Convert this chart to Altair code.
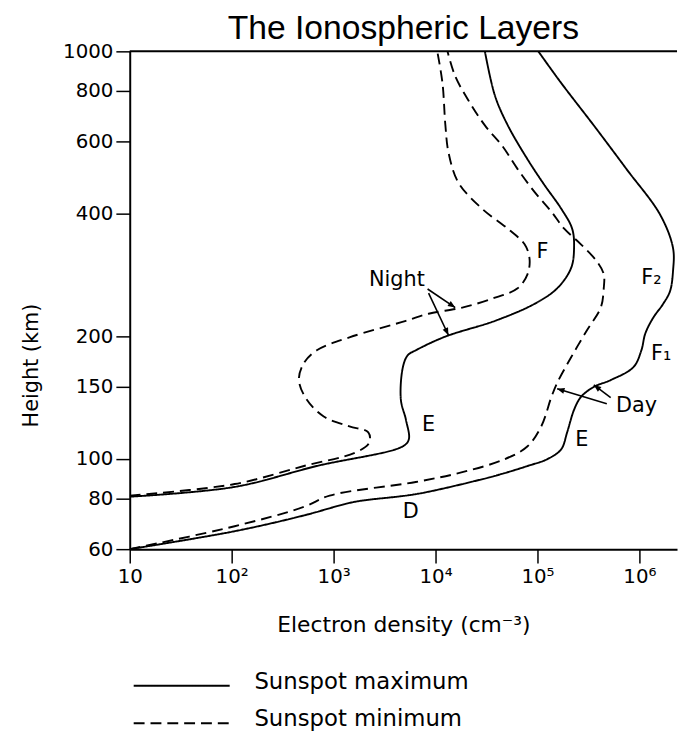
import math
import altair as alt
import pandas as pd

# ---------------- data ----------------
# Night, sunspot maximum (solid)
night_max_density = [10, 107, 684, 4786, 5470, 5120, 4570, 4786, 5350, 6400, 12500, 38300, 93500,
                     156000, 214000, 228600, 219000, 171000, 117000, 80000, 51200, 38300, 30500]
night_max_height = [80.7, 85.3, 96.0, 107.3, 111.6, 124.8, 139.6, 167.9, 179.6, 184.6, 199.5, 218, 240,
                    262, 294, 329, 367, 411, 470, 543, 658, 778, 1000]

# Night, sunspot minimum (dashed)
night_min_density = [10, 107, 512, 1671, 2240, 2190, 1430, 800, 547, 457, 512, 684, 1430, 5120, 8550,
                     18300, 38300, 63900, 80000, 83600, 74800, 51200, 28600, 16700, 13400, 12500, 11700, 10400]
night_min_height = [81.2, 86.7, 96, 103.8, 109.6, 116.1, 120.1, 127, 139.6, 156, 171.8, 184.6, 198.6, 218, 227,
                    235, 248.5, 262, 284, 310, 336, 367, 411, 477, 565, 658, 836, 1000]

# Day, sunspot maximum (solid)
day_max_density = [10, 107, 512, 1337, 1871, 5120, 8550, 38300, 80000, 125000, 171000, 195500, 228600,
                   267000, 357000, 523000, 875000, 1046000, 1143000, 1368000, 1711000, 2000000, 2138000,
                   2138000, 1600000, 748000, 357000, 171000, 102000]
day_max_height = [60, 66.4, 72.6, 77.6, 78.9, 81.2, 83.0, 90.8, 96.0, 99.8, 105.5, 116.1, 131.9,
                  141.8, 150.1, 156, 167.9, 184.6, 203, 222, 240, 258, 289,
                  329, 397, 514, 658, 836, 1000]

# Day, sunspot minimum (dashed)
day_min_density = [10, 107, 512, 914, 6400, 18300, 47900, 80000, 109000, 137000, 156000, 214000, 305000,
                   418000, 447000, 447000, 383000, 267000, 183000, 137000, 93500, 63900, 44700, 30500,
                   20900, 15600, 13100]
day_min_height = [60, 68.3, 76.2, 81.2, 87.7, 92.7, 99.8, 107.3, 120.1, 141.8, 153.5, 177.5, 206.5,
                  235, 262, 284, 305, 336, 367, 404, 452, 514, 588, 658,
                  760, 869, 1000]

# Text labels on the chart
ann_text = ["Night", "F", "F\u2082", "F\u2081", "Day", "E", "E", "D"]
ann_density = [4180, 112000, 1310000, 1637000, 935000, 8550, 273000, 5710]
ann_height = [274.8, 321, 278, 180.6, 134.9, 120.8, 110.9, 74.1]

# Arrows (from label to curve)
arrow_density = [8360, 8550, 479000, 523000]
arrow_height = [261, 255, 136.4, 141.3]
arrow_density2 = [15600, 13400, 156000, 357000]
arrow_height2 = [235, 201, 148.5, 151.8]

# Axes
x_tick_values = [10, 100, 1000, 10000, 100000, 1000000]
x_tick_labels = ["10", "10\u00b2", "10\u00b3", "10\u2074", "10\u2075", "10\u2076"]
y_tick_values = [60, 80, 100, 150, 200, 400, 600, 800, 1000]

legend_labels = ["Sunspot maximum", "Sunspot minimum"]

# ---------------- build tables ----------------
rows = []
for name, cyc, dens, hts in [
    ("night_max", legend_labels[0], night_max_density, night_max_height),
    ("night_min", legend_labels[1], night_min_density, night_min_height),
    ("day_max", legend_labels[0], day_max_density, day_max_height),
    ("day_min", legend_labels[1], day_min_density, day_min_height),
]:
    for i, (d, h) in enumerate(zip(dens, hts)):
        rows.append({"curve": name, "cycle": cyc, "idx": i, "density": d, "height": h})
df = pd.DataFrame(rows)

W, H = 553, 503
X_DOMAIN = [10, 2.34e6]
Y_DOMAIN = [60, 1000]
px_x = W / (math.log10(X_DOMAIN[1]) - math.log10(X_DOMAIN[0]))
px_y = H / (math.log10(Y_DOMAIN[1]) - math.log10(Y_DOMAIN[0]))

angles = []
for d1, h1, d2, h2 in zip(arrow_density, arrow_height, arrow_density2, arrow_height2):
    dx = px_x * (math.log10(d2) - math.log10(d1))
    dy = -px_y * (math.log10(h2) - math.log10(h1))
    angles.append(math.degrees(math.atan2(dx, -dy)) % 360)

arrows = pd.DataFrame({"density": arrow_density, "height": arrow_height,
                       "density2": arrow_density2, "height2": arrow_height2, "angle": angles})
ann = pd.DataFrame({"label": ann_text, "density": ann_density, "height": ann_height})

label_expr = ""
for v, lab in zip(x_tick_values, x_tick_labels):
    label_expr += f"datum.value == {v} ? '{lab}' : "
label_expr += "''"

xs = alt.Scale(type="log", domain=X_DOMAIN, nice=False)
ys = alt.Scale(type="log", domain=Y_DOMAIN, nice=False)
FONT = "DejaVu Sans"

x_axis = alt.Axis(values=x_tick_values, labelExpr=label_expr, title="Electron density (cm\u207b\u00b3)",
                  tickSize=14, tickWidth=1.5, domainWidth=2, labelFontSize=20, labelFont=FONT,
                  labelPadding=4, titleFontSize=22, titleFont=FONT, titleFontWeight="normal",
                  titleY=76, titleBaseline="middle", grid=False, labelFlush=False, labelOverlap=False)
y_axis = alt.Axis(values=y_tick_values, format="d", title="Height (km)",
                  tickSize=14, tickWidth=1.5, domainWidth=2, labelFontSize=20, labelFont=FONT,
                  labelPadding=3, titleFontSize=21, titleFont=FONT, titleFontWeight="normal",
                  titleX=-99, titleY=317, titleAngle=270, titleAlign="center", titleBaseline="middle",
                  grid=False, labelOverlap=False)

curves = alt.Chart(df).mark_line(interpolate="catmull-rom", color="black", strokeWidth=1.9, clip=True).encode(
    x=alt.X("density:Q", scale=xs, axis=x_axis),
    y=alt.Y("height:Q", scale=ys, axis=y_axis),
    detail="curve:N",
    order="idx:Q",
    strokeDash=alt.StrokeDash("cycle:N", scale=alt.Scale(domain=legend_labels, range=[[1, 0], [11, 6]]),
                              legend=None),
)

top_rule = alt.Chart(pd.DataFrame({"height": [1000]})).mark_rule(color="black", strokeWidth=2).encode(
    y=alt.Y("height:Q", scale=ys)
)

texts = alt.Chart(ann).mark_text(font=FONT, fontSize=21, color="black", align="center", baseline="middle").encode(
    x=alt.X("density:Q", scale=xs), y=alt.Y("height:Q", scale=ys), text="label:N"
)

arrow_lines = alt.Chart(arrows).mark_rule(color="black", strokeWidth=1.6).encode(
    x=alt.X("density:Q", scale=xs), y=alt.Y("height:Q", scale=ys), x2="density2:Q", y2="height2:Q"
)
arrow_heads = alt.Chart(arrows).mark_point(shape="M0,0L-0.4,1L0.4,1Z", filled=True, size=220,
                                           color="black", opacity=1).encode(
    x=alt.X("density2:Q", scale=xs), y=alt.Y("height2:Q", scale=ys), angle=alt.Angle("angle:Q", scale=None)
)

leg_rows = []
for i, (lab, dash, ly) in enumerate(zip(legend_labels, [[1, 0], [11, 6]], [641, 679])):
    d = pd.DataFrame({"label": [lab]})
    leg_rows.append(alt.Chart(d).mark_rule(color="black", strokeWidth=2, strokeDash=dash).encode(
        x=alt.value(4), x2=alt.value(101), y=alt.value(ly)))
    leg_rows.append(alt.Chart(d).mark_text(font=FONT, fontSize=23, color="black", align="left",
                                           baseline="middle").encode(
        x=alt.value(126), y=alt.value(ly - 4), text="label:N"))

chart = alt.layer(curves, top_rule, arrow_lines, arrow_heads, texts, *leg_rows).properties(
    width=W, height=H,
    title=alt.TitleParams("The Ionospheric Layers", font="Liberation Sans", fontSize=34, fontWeight="normal",
                          color="black", anchor="middle", baseline="alphabetic", offset=-32),
    autosize=alt.AutoSizeParams(type="none"),
    padding={"left": 123, "top": 40, "right": 2, "bottom": 186},
).configure_view(stroke=None).configure_axis(
    domainColor="black", tickColor="black", labelColor="black", titleColor="black"
)

chart.save("out.html", embed_options={"renderer": "svg", "actions": False})
